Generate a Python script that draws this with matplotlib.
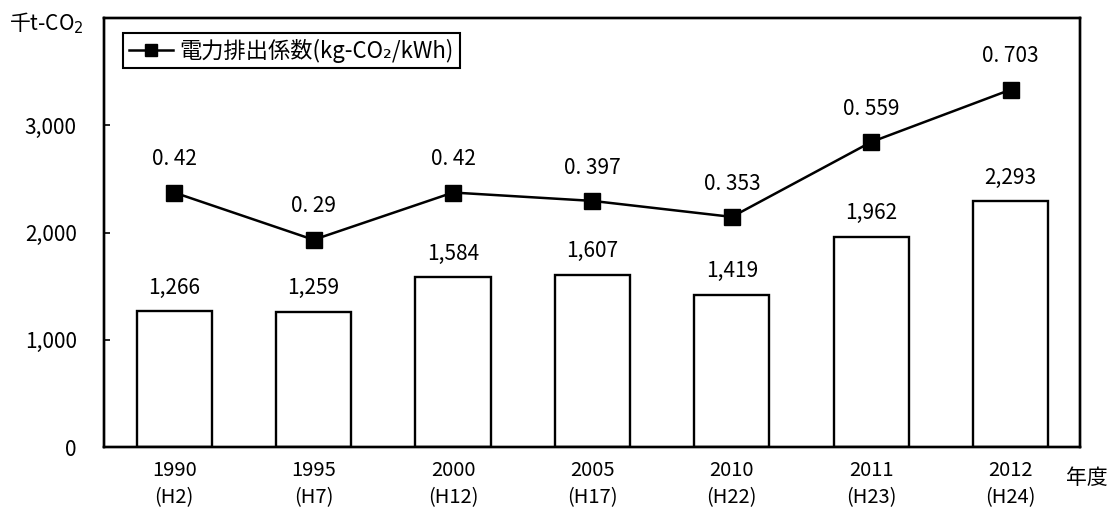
import matplotlib.pyplot as plt

plt.rcParams['font.family'] = ['Noto Sans CJK JP', 'DejaVu Sans']

# data
years = ['1990\n(H2)', '1995\n(H7)', '2000\n(H12)', '2005\n(H17)',
         '2010\n(H22)', '2011\n(H23)', '2012\n(H24)']
emissions = [1266, 1259, 1584, 1607, 1419, 1962, 2293]          # 千t-CO2
factor = [0.42, 0.29, 0.42, 0.397, 0.353, 0.559, 0.703]         # kg-CO2/kWh
y_ticks = [0, 1000, 2000, 3000]

x = list(range(len(years)))

fig = plt.figure(figsize=(11.14, 5.15), dpi=100)
ax = fig.add_axes([0.0938, 0.132, 0.876, 0.833])

# bars (emissions)
ax.bar(x, emissions, width=0.54, color='white', edgecolor='black', linewidth=1.7, zorder=2)
for xi, v in zip(x, emissions):
    ax.annotate(f'{v:,}', (xi, v), xytext=(0, 17), textcoords='offset points',
                ha='center', va='center', fontsize=15)

ax.set_xlim(-0.5, 6.5)
ax.set_ylim(0, 4000)
ax.set_yticks(y_ticks)
ax.set_yticklabels([f'{t:,}' for t in y_ticks], fontsize=15)
ax.set_xticks(x)
ax.set_xticklabels(years, fontsize=14.5, linespacing=1.4)
ax.tick_params(axis='y', direction='in', length=4.5, width=1.2, pad=20)
ax.tick_params(axis='x', length=0, pad=9)
for s in ax.spines.values():
    s.set_linewidth(1.7)

# line (emission factor) on a hidden second scale
ax2 = ax.twinx()
ax2.plot(x, factor, color='black', linewidth=1.8, marker='s', markersize=11,
         label='電力排出係数(kg-CO₂/kWh)', zorder=3)
for xi, v in zip(x, factor):
    ax2.annotate(f'{v:g}'.replace('.', '. '), (xi, v), xytext=(0, 24),
                 textcoords='offset points', ha='center', va='center', fontsize=15)
ax2.set_ylim(-0.28, 0.90)
ax2.set_yticks([])
for s in ax2.spines.values():
    s.set_linewidth(1.7)

leg = ax2.legend(loc='upper left', bbox_to_anchor=(0.019, 0.965), borderaxespad=0,
                 fancybox=False, edgecolor='black', framealpha=1, fontsize=16,
                 handlelength=2.0, handletextpad=0.3, borderpad=0.25, markerscale=0.8)
leg.get_frame().set_linewidth(1.5)

fig.text(0.008, 0.955, '千t-CO$_2$', fontsize=15, ha='left', va='center')
fig.text(0.957, 0.072, '年度', fontsize=15, ha='left', va='center')

fig.savefig('out.png', dpi=100)
